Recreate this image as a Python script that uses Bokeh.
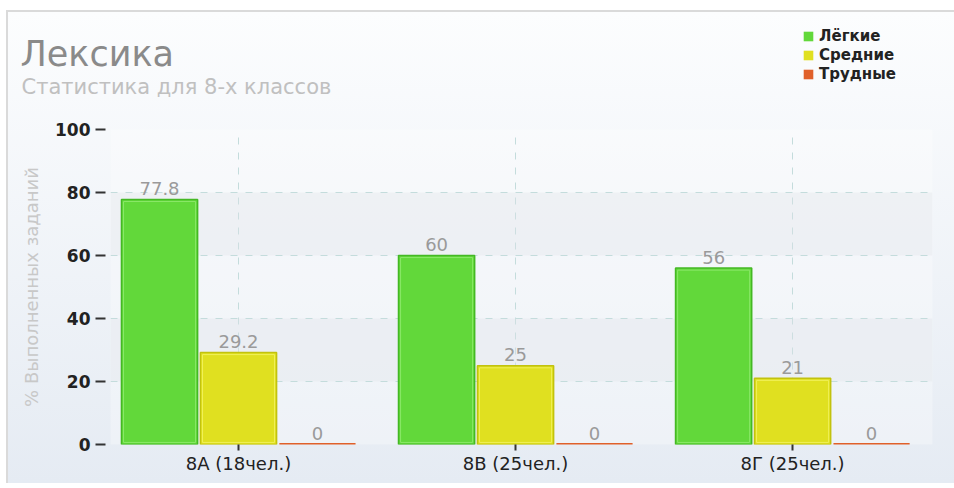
from bokeh.plotting import figure
from bokeh.models import (ColumnDataSource, Range1d, FixedTicker, Legend, LegendItem, Label)
from bokeh.core.properties import value
from bokeh.layouts import column
from bokeh.transform import dodge
from bokeh.embed import file_html
from bokeh.resources import INLINE

title = "Лексика"
subtitle = "Статистика для 8-х классов"
y_label = "% Выполненных заданий"
categories = ["8А (18чел.)", "8В (25чел.)", "8Г (25чел.)"]
series_names = ["Лёгкие", "Средние", "Трудные"]
easy = [77.8, 60, 56]
medium = [29.2, 25, 21]
hard = [0, 0, 0]
y_ticks = [0, 20, 40, 60, 80, 100]

fills = ["#62d83a", "#e0e020", "#e0602a"]
lines = ["#44b824", "#c2c20e", "#e0602a"]
inner = ["#8ae868", "#f0f058", None]
offsets = [-0.285, 0.0, 0.285]
BAR_W = 0.275
FONT = "DejaVu Sans"
W = 954
HEAD_H = 100

xs = list(range(len(categories)))
src = ColumnDataSource(dict(
    x=xs,
    s0=easy, s1=medium, s2=hard,
    t0=[f"{v:g}" for v in easy],
    t1=[f"{v:g}" for v in medium],
    t2=[f"{v:g}" for v in hard],
))

# ---------------- header (title, subtitle, legend) ----------------
head = figure(width=W, height=HEAD_H, output_backend="svg", toolbar_location=None,
              x_range=Range1d(0, W), y_range=Range1d(0, HEAD_H),
              x_axis_type=None, y_axis_type=None,
              min_border=0, min_border_left=0, min_border_right=0,
              min_border_top=0, min_border_bottom=0)
head.border_fill_alpha = 0
head.background_fill_alpha = 0
head.outline_line_color = None
head.grid.visible = False

# zero-width stand-ins (nothing visible) that only supply the legend swatches
swatches = []
for i in range(3):
    r = head.vbar(x="x", top=f"s{i}", width=0, source=src,
                  fill_color=fills[i], line_color=None)
    swatches.append(r)

legend = Legend(items=[LegendItem(label=n, renderers=[r]) for n, r in zip(series_names, swatches)],
                location=(802, 17), orientation="vertical", padding=0, spacing=0, margin=0,
                glyph_width=12, glyph_height=12, label_height=19, label_standoff=5,
                background_fill_alpha=0, border_line_color=None,
                label_text_font=FONT, label_text_font_size="15px",
                label_text_font_style="bold", label_text_color="#222222")
head.add_layout(legend, "center")

head.add_layout(Label(x=20, y=47, x_units="screen", y_units="screen", text=title,
                      text_font=FONT, text_font_size="35px", text_color="#8a8a8a",
                      text_baseline="alphabetic"))
head.add_layout(Label(x=21, y=14, x_units="screen", y_units="screen", text=subtitle,
                      text_font=FONT, text_font_size="21px", text_color="#c0c0c0",
                      text_baseline="alphabetic"))

# ---------------- main chart ----------------
p = figure(width=W, height=383, output_backend="svg", toolbar_location=None,
           x_range=Range1d(-0.462, 2.505), y_range=Range1d(0, 100),
           min_border_left=110, min_border_right=22, min_border_top=29, min_border_bottom=39)
p.border_fill_alpha = 0
p.outline_line_color = None
p.background_fill_color = "#ffffff"
p.background_fill_alpha = 0.3

for fig in (head, p):
    if "frame_align" in fig.properties():
        fig.frame_align = False

for g in (p.xgrid, p.ygrid):
    g.grid_line_color = "#c4dcdc"
    g.grid_line_dash = "7 8"
    g.grid_line_width = 1
p.ygrid.band_fill_color = "#dfe3e8"
p.ygrid.band_fill_alpha = 0.35

p.xaxis.ticker = FixedTicker(ticks=xs)
p.xaxis.major_label_overrides = {i: c for i, c in zip(xs, categories)}
p.xaxis.axis_line_color = None
p.xaxis.minor_tick_line_color = None
p.xaxis.major_tick_in = 0
p.xaxis.major_tick_out = 6
p.xaxis.major_tick_line_width = 2
p.xaxis.major_tick_line_color = "#333333"
p.xaxis.major_label_text_font = FONT
p.xaxis.major_label_text_font_size = "18px"
p.xaxis.major_label_text_color = "#222222"
p.xaxis.major_label_standoff = 2

p.yaxis.ticker = FixedTicker(ticks=y_ticks)
p.yaxis.axis_line_color = None
p.yaxis.minor_tick_line_color = None
p.yaxis.major_tick_in = -5
p.yaxis.major_tick_out = 15
p.yaxis.major_tick_line_width = 2
p.yaxis.major_tick_line_color = "#333333"
p.yaxis.major_label_text_font = FONT
p.yaxis.major_label_text_font_size = "17px"
p.yaxis.major_label_text_font_style = "bold"
p.yaxis.major_label_text_color = "#222222"
p.yaxis.major_label_standoff = 5
p.yaxis.axis_label = y_label
p.yaxis.axis_label_text_font = FONT
p.yaxis.axis_label_text_font_size = "18px"
p.yaxis.axis_label_text_font_style = "normal"
p.yaxis.axis_label_text_color = "#c8c8c8"
p.yaxis.axis_label_standoff = 10

for i in range(3):
    xd = dodge("x", offsets[i], range=p.x_range)
    p.vbar(x=xd, top=f"s{i}", bottom=0, width=BAR_W,
           source=src, fill_color=fills[i], line_color=lines[i],
           line_width=3 if i == 2 else 1.5)
    if inner[i]:
        # thin lighter inner rim, inset ~2px inside the bar outline
        p.vbar(x=xd, top=dodge(f"s{i}", -0.65, range=p.y_range), bottom=0.65,
               width=BAR_W - 0.015, source=src, fill_color=None,
               line_color=inner[i], line_width=1)
    p.text(x=xd, y=f"s{i}", text=f"t{i}", source=src,
           text_align="center", text_baseline="alphabetic", y_offset=-11,
           text_font=value(FONT), text_font_size="18px", text_color="#9a9a9a")

bg = ("linear-gradient(#dadada,#dadada) 6px 10px / 2px calc(100% - 10px) no-repeat, "
      "linear-gradient(#dadada,#dadada) 6px 10px / calc(100% - 6px) 2px no-repeat, "
      "linear-gradient(#fcfdfe,#e5ebf3) 8px 12px / calc(100% - 8px) calc(100% - 12px) no-repeat, "
      "#ffffff")
layout = column(head, p, spacing=0, styles={"background": bg})

open("out.html", "w").write(file_html(layout, INLINE))
